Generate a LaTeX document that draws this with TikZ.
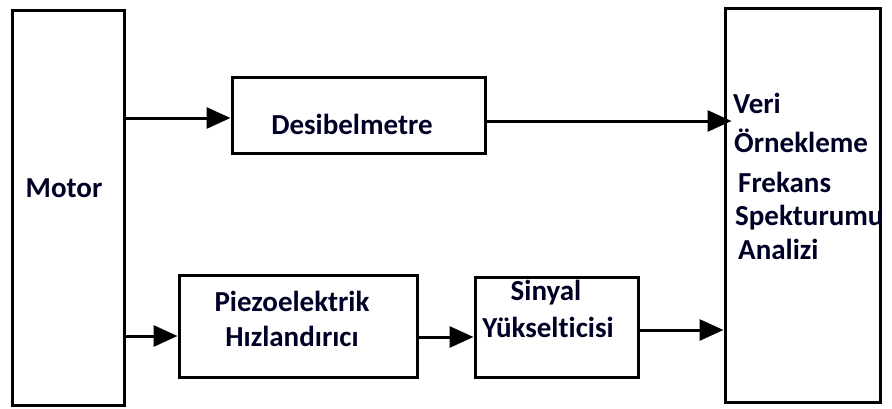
\documentclass[tikz,border=0pt]{standalone}
\usepackage{fontspec}
\setmainfont[Ligatures=NoCommon]{Carlito}
\usetikzlibrary{arrows.meta,calc}
\begin{document}
\begin{tikzpicture}[x=1pt,y=-1pt,
  blk/.style={draw=black,line width=3pt,rectangle,inner sep=0pt},
  lbl/.style={font=\fontsize{29}{35}\selectfont\bfseries,text=black!85!blue,inner sep=0pt},
  arr/.style={line width=3pt,-{Triangle[length=24pt,width=21pt]}}]
\useasboundingbox (0,0) rectangle (892,408);
\fill[white] (0,0) rectangle (892,408);
% boxes
\node[blk,minimum width=112pt,minimum height=395pt] (motor) at (68,207.5) {};
\node[blk,minimum width=253pt,minimum height=76pt] (desi) at (358.5,115) {};
\node[blk,minimum width=238pt,minimum height=102pt] (piezo) at (298,326) {};
\node[blk,minimum width=163pt,minimum height=100pt] (sinyal) at (556.5,327) {};
\node[blk,minimum width=155pt,minimum height=394pt] (veri) at (802.5,205) {};
% texts
\node[lbl] (tmotor) at (64,188.5) {Motor};
\node[lbl] (tdesi) at (352,124) {Desibelmetre};
\node[lbl] (tpiezo1) at (292,301) {Piezoelektrik};
\node[lbl] (tpiezo2) at (292,336) {Hızlandırıcı};
\node[lbl] (tsin1) at (546,293) {Sinyal};
\node[lbl] (tsin2) at (548,327) {Yükselticisi};
\node[lbl,anchor=base west] (tv1) at (733,113) {Veri};
\node[lbl,anchor=base west] (tv2) at (734,152) {Örnekleme};
\node[lbl,anchor=base west] (tv3) at (738,192) {Frekans};
\node[lbl,anchor=base west] (tv4) at (735,225) {Spekturumu};
\node[lbl,anchor=base west] (tv5) at (738,259) {Analizi};
% connectors
\coordinate (y1) at (0,118);
\coordinate (y2) at (0,121);
\coordinate (y3) at (0,336);
\coordinate (y4) at (0,337);
\coordinate (y5) at (0,330);
\draw[arr] (motor.east |- y1) -- (desi.west |- y1);
\draw[arr] (desi.east |- y2) -- ($(veri.west |- y2)+(8,0)$);
\draw[arr] (motor.east |- y3) -- (piezo.west |- y3);
\draw[arr] (piezo.east |- y4) -- (sinyal.west |- y4);
\draw[arr] (sinyal.east |- y5) -- (veri.west |- y5);
\end{tikzpicture}
\end{document}
